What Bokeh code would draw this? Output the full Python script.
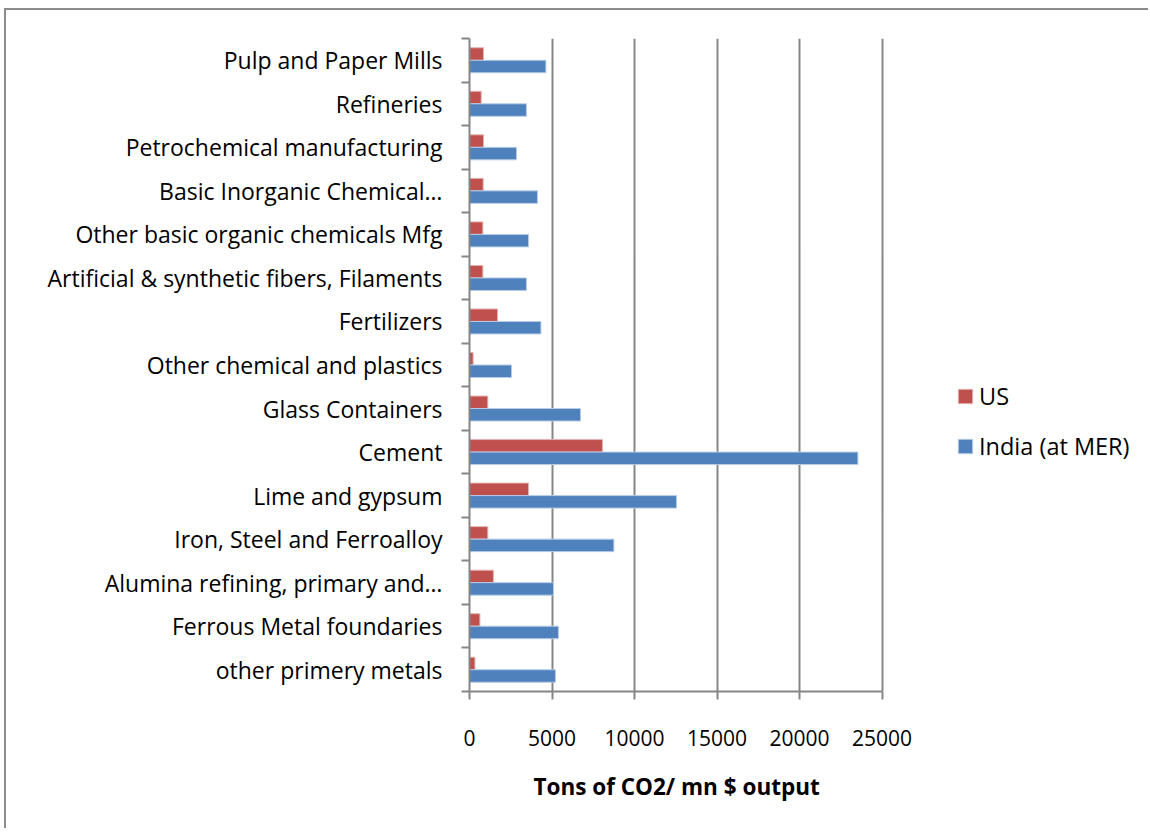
from bokeh.plotting import figure
from bokeh.models import ColumnDataSource, Range1d, FixedTicker, Legend, LegendItem, Title
from bokeh.transform import dodge
from bokeh.embed import file_html
from bokeh.resources import INLINE

categories = [
    "other primery metals",
    "Ferrous Metal foundaries",
    "Alumina refining, primary and…",
    "Iron, Steel and Ferroalloy",
    "Lime and gypsum",
    "Cement",
    "Glass Containers",
    "Other chemical and plastics",
    "Fertilizers",
    "Artificial & synthetic fibers, Filaments",
    "Other basic organic chemicals Mfg",
    "Basic Inorganic Chemical…",
    "Petrochemical manufacturing",
    "Refineries",
    "Pulp and Paper Mills",
]
us = [330, 630, 1450, 1110, 3580, 8060, 1110, 220, 1700, 810, 810, 830, 850, 710, 850]
india = [5210, 5390, 5090, 8750, 12550, 23540, 6730, 2550, 4330, 3450, 3580, 4120, 2850, 3450, 4630]
x_ticks = [0, 5000, 10000, 15000, 20000, 25000]
series_names = ["US", "India (at MER)"]
x_title = "Tons of CO2/ mn $ output"

n = len(categories)
centers = [i + 0.5 for i in range(n)]
bounds = [float(i) for i in range(n + 1)]

src = ColumnDataSource(dict(pos=centers, us=us, india=india, cat=categories))

FONT = "Open Sans"
GRID = "#868686"

# layout (pixels)
W, H = 1144, 820
B_LEFT, B_TOP = 463, 28
FRAME_W = 665
B_RIGHT = W - B_LEFT - FRAME_W
B_BOTTOM = H - 681
AXIS_PX = 412.5                      # pixel length of the value axis (0..25000)
x_max = x_ticks[-1] * FRAME_W / AXIS_PX  # frame extends right to host the legend

p = figure(
    width=W, height=H,
    x_range=Range1d(x_ticks[0], x_max),
    y_range=Range1d(0, n),
    output_backend="svg", toolbar_location=None,
    min_border_left=B_LEFT, min_border_right=B_RIGHT,
    min_border_top=B_TOP, min_border_bottom=B_BOTTOM,
)
p.outline_line_color = None
p.background_fill_color = "white"
p.border_fill_color = "white"
p.styles = {"margin-left": "4px", "margin-top": "8px",
            "border-left": "2px solid #8c8c8c", "border-top": "2px solid #8c8c8c"}

bar_h = 0.287
r_us = p.hbar(y=dodge("pos", bar_h / 2), right="us", left=0, height=bar_h, source=src,
              fill_color="#C0504D", line_color="#E3B3B2", line_width=1)
r_in = p.hbar(y=dodge("pos", -bar_h / 2), right="india", left=0, height=bar_h, source=src,
              fill_color="#4F81BD", line_color="#B7CCE6", line_width=1)

# x axis
xa = p.xaxis[0]
xa.ticker = FixedTicker(ticks=x_ticks)
xa.bounds = (x_ticks[0], x_ticks[-1])
xa.axis_line_color = GRID
xa.axis_line_width = 2
xa.major_tick_line_color = GRID
xa.major_tick_line_width = 2
xa.major_tick_in = 0
xa.major_tick_out = 8
xa.minor_tick_line_color = None
xa.major_label_text_font = FONT
xa.major_label_text_font_size = "21px"
xa.major_label_text_color = "black"
xa.major_label_standoff = 30

title = Title(text=x_title, align="left", offset=64, standoff=40,
              text_font=FONT, text_font_size="22.5px", text_font_style="bold",
              text_color="black")
p.add_layout(title, "below")

# y axis
ya = p.yaxis[0]
ya.ticker = FixedTicker(ticks=centers, minor_ticks=bounds)
ya.major_label_overrides = {c: name for c, name in zip(centers, categories)}
ya.axis_line_color = GRID
ya.axis_line_width = 2
ya.major_tick_line_color = None
ya.major_tick_in = 0
ya.major_tick_out = 0
ya.minor_tick_line_color = GRID
ya.minor_tick_line_width = 2
ya.minor_tick_in = 0
ya.minor_tick_out = 8
ya.major_label_text_font = FONT
ya.major_label_text_font_size = "23px"
ya.major_label_text_color = "black"
ya.major_label_standoff = 19

p.xgrid.ticker = FixedTicker(ticks=x_ticks)
p.xgrid.bounds = (0, n)
p.xgrid.grid_line_color = GRID
p.xgrid.grid_line_width = 2
p.ygrid.grid_line_color = None

legend = Legend(
    items=[LegendItem(label=series_names[0], renderers=[r_us]),
           LegendItem(label=series_names[1], renderers=[r_in])],
    location=(487, 229),
    orientation="vertical",
    border_line_color=None,
    background_fill_alpha=0,
    padding=0, margin=0,
    glyph_width=18, glyph_height=18,
    label_standoff=5,
    spacing=18,
    label_text_font=FONT,
    label_text_font_size="23.5px",
    label_text_color="black",
)
p.add_layout(legend, "center")

open("out.html", "w").write(file_html(p, INLINE))
